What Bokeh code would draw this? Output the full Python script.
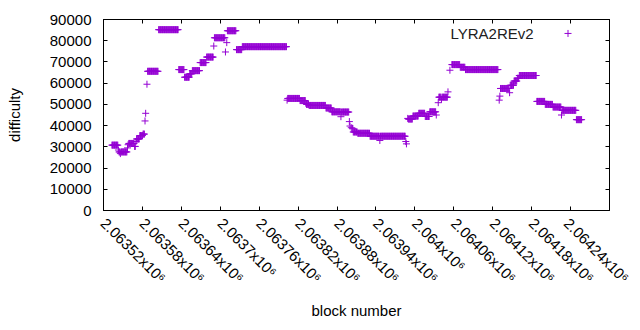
import math
from bokeh.plotting import figure
from bokeh.models import (ColumnDataSource, FixedTicker, Range1d, LinearAxis, Label)
from bokeh.core.properties import value
from bokeh.embed import file_html
from bokeh.resources import INLINE

# ---- data: runs of blocks sharing (visually) the same difficulty ----
seg_first = [2063533, 2063543, 2063544, 2063546, 2063547, 2063557, 2063558, 2063559,
             2063568, 2063570, 2063571, 2063576, 2063581, 2063584, 2063585, 2063587,
             2063588, 2063605, 2063636, 2063645, 2063653, 2063657, 2063669, 2063679,
             2063690, 2063691, 2063708, 2063710, 2063711, 2063725, 2063734, 2063803,
             2063804, 2063823, 2063832, 2063833, 2063837, 2063863, 2063872, 2063886,
             2063887, 2063899, 2063900, 2063902, 2063904, 2063905, 2063912, 2063931,
             2063946, 2063947, 2063986, 2063987, 2063989, 2063990, 2063997, 2064006,
             2064016, 2064023, 2064033, 2064036, 2064037, 2064041, 2064042, 2064051,
             2064054, 2064057, 2064070, 2064078, 2064130, 2064131, 2064132, 2064146,
             2064147, 2064153, 2064158, 2064161, 2064188, 2064201, 2064213, 2064226,
             2064227, 2064249]
seg_last = [2063542, 2063543, 2063545, 2063546, 2063556, 2063557, 2063558, 2063567,
            2063569, 2063570, 2063575, 2063580, 2063583, 2063584, 2063585, 2063587,
            2063604, 2063635, 2063644, 2063652, 2063656, 2063668, 2063678, 2063689,
            2063690, 2063707, 2063708, 2063710, 2063724, 2063733, 2063802, 2063803,
            2063822, 2063831, 2063832, 2063836, 2063862, 2063871, 2063885, 2063886,
            2063898, 2063899, 2063900, 2063902, 2063904, 2063911, 2063930, 2063945,
            2063946, 2063985, 2063986, 2063987, 2063989, 2063996, 2064005, 2064015,
            2064022, 2064032, 2064033, 2064036, 2064040, 2064041, 2064050, 2064051,
            2064054, 2064069, 2064077, 2064128, 2064130, 2064131, 2064145, 2064146,
            2064152, 2064157, 2064160, 2064187, 2064200, 2064212, 2064225, 2064226,
            2064248, 2064257]
seg_difficulty = [30800, 28500, 27600, 26800, 27600, 29500, 31000, 31600,
                  30200, 32500, 33700, 35300, 36000, 42200, 45800, 59500,
                  65600, 85200, 66400, 62800, 64400, 65900, 69700, 72300,
                  77500, 81400, 74700, 79100, 84700, 75800, 77200, 52000,
                  52800, 51800, 50500, 50000, 49500, 48300, 46500, 44200,
                  46400, 41900, 39800, 39000, 38750, 37000, 36400, 35000,
                  33000, 35000, 32500, 31400, 43400, 43100, 44500, 45800,
                  44300, 46500, 45000, 50800, 53400, 52400, 53400, 55900,
                  66100, 68750, 67500, 66400, 52000, 53900, 57500, 55500,
                  59000, 61000, 62300, 63600, 51400, 50000, 48750, 45000,
                  47200, 42800]

x_ticks = [2063520, 2063580, 2063640, 2063700, 2063760, 2063820, 2063880,
           2063940, 2064000, 2064060, 2064120, 2064180, 2064240, 2064300]
x_tick_labels = ["2.06352x10⁶", "2.06358x10⁶", "2.06364x10⁶", "2.0637x10⁶",
                 "2.06376x10⁶", "2.06382x10⁶", "2.06388x10⁶", "2.06394x10⁶",
                 "2.064x10⁶", "2.06406x10⁶", "2.06412x10⁶", "2.06418x10⁶",
                 "2.06424x10⁶", "2.0643x10⁶"]
y_ticks = [0, 10000, 20000, 30000, 40000, 50000, 60000, 70000, 80000, 90000]
series_name = "LYRA2REv2"
x_title = "block number"
y_title = "difficulty"

blocks, diffs = [], []
for a, b, d in zip(seg_first, seg_last, seg_difficulty):
    for blk in range(a, b + 1):
        blocks.append(blk)
        diffs.append(d)
src = ColumnDataSource(dict(block=blocks, difficulty=diffs))

FONT = "Liberation Sans"
FS = "15px"
PURPLE = "#9400D3"
ANG = -math.pi / 4

p = figure(width=632, height=322, output_backend="svg", toolbar_location=None,
           x_range=Range1d(x_ticks[0], x_ticks[-1]), y_range=Range1d(0, 90000),
           min_border_left=103, min_border_right=23, min_border_top=19,
           min_border_bottom=111, background_fill_color="white",
           border_fill_color="white")
p.xgrid.visible = False
p.ygrid.visible = False
p.outline_line_color = "black"
p.outline_line_width = 1
p.outline_line_alpha = 1

r = p.scatter("block", "difficulty", source=src, marker="cross", size=7,
              line_color=PURPLE, line_width=1)

def style_axis(ax, ticks, labels=True):
    ax.ticker = FixedTicker(ticks=ticks)
    ax.axis_line_color = "black"
    ax.major_tick_in = 4
    ax.major_tick_out = 0
    ax.minor_tick_line_color = None
    ax.major_tick_line_color = "black"
    ax.major_label_text_font = FONT
    ax.major_label_text_font_size = FS if labels else "1px"
    ax.major_label_text_color = "black" if labels else None
    ax.axis_label_text_font = FONT
    ax.axis_label_text_font_size = FS
    ax.axis_label_text_font_style = "normal"
    ax.axis_label_text_color = "black"

# bottom axis: all but the last tick labelled by the axis itself
xa = p.xaxis[0]
style_axis(xa, x_ticks[:-1])
xa.major_label_overrides = {t: s for t, s in zip(x_ticks[:-1], x_tick_labels[:-1])}
xa.major_label_orientation = ANG
xa.major_label_standoff = 10
xa.axis_label = x_title
xa.axis_label_standoff = 7

# last tick label sits at the right border and runs off the canvas, as in the source
p.add_layout(Label(x=x_ticks[-1], y=-10, x_units="data", y_units="screen",
                   text=x_tick_labels[-1], angle=ANG, text_align="left",
                   text_baseline="middle", text_font=FONT, text_font_size=FS,
                   text_color="black"))

ya = p.yaxis[0]
style_axis(ya, y_ticks)
ya.major_label_standoff = 12
ya.axis_label = y_title
ya.axis_label_standoff = 24

top = LinearAxis()
style_axis(top, x_ticks, labels=False)
top.major_label_standoff = 0
p.add_layout(top, "above")
right = LinearAxis()
style_axis(right, y_ticks, labels=False)
right.major_label_standoff = 0
p.add_layout(right, "right")

# key: text on the left, marker sample on the right (gnuplot style),
# placed in frame-relative (0..1) coordinates
p.extra_x_ranges["key"] = Range1d(0, 1)
p.extra_y_ranges["key"] = Range1d(0, 1)
p.scatter(x=[0.918], y=[0.927], x_range_name="key", y_range_name="key",
          marker="cross", size=7, line_color=PURPLE, line_width=1)
p.text(x=[0.85], y=[0.925], text=[series_name], x_range_name="key",
       y_range_name="key", text_align="right", text_baseline="middle",
       text_font=value(FONT), text_font_size=value(FS), text_color="#202020")

open("out.html", "w").write(file_html(p, INLINE))
